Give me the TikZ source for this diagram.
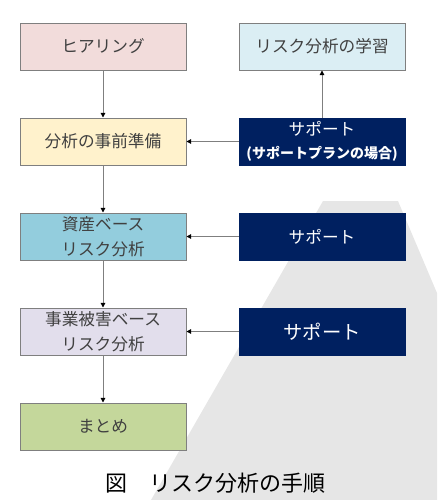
\documentclass[tikz,border=0pt]{standalone}
\usepackage{fontspec}
\setmainfont{Noto Sans CJK JP}
\usetikzlibrary{positioning,arrows.meta}
\definecolor{hearingfill}{HTML}{F2DCDB}
\definecolor{studyfill}{HTML}{DBEEF4}
\definecolor{prepfill}{HTML}{FFF2CC}
\definecolor{assetfill}{HTML}{93CDDD}
\definecolor{damagefill}{HTML}{E2DEEC}
\definecolor{summaryfill}{HTML}{C4D79B}
\definecolor{navy}{HTML}{002060}
\definecolor{boxline}{HTML}{7F7F7F}
\definecolor{textgray}{HTML}{404040}
\definecolor{backshade}{HTML}{E6E6E6}

\begin{document}
\begin{tikzpicture}[x=0.75pt,y=-0.75pt,
  node distance=35.25pt and 39pt,
  stepbox/.style={draw=boxline, line width=0.75pt, minimum width=124.5pt,
    minimum height=35.25pt, inner sep=1pt, align=center, text=textgray,
    font=\fontsize{12.5}{18.5}\selectfont},
  supportbox/.style={stepbox, draw=navy, fill=navy, text=white},
  flow/.style={draw=boxline, line width=0.75pt,
    -{Triangle[length=3.5pt,width=3.5pt,color=black]}}]
  \useasboundingbox (0,0) rectangle (437,500);
  % grey backdrop
  \fill[backshade] (323,201) -- (398,201) -- (437,293) -- (437,500) -- (151,500) -- cycle;

  % main steps
  \node[stepbox, fill=hearingfill] (hearing) at (103,46.5) {ヒアリング};
  \node[stepbox, fill=prepfill, below=of hearing] (prep) {分析の事前準備};
  \node[stepbox, fill=assetfill, below=of prep] (asset) {資産ベース\\リスク分析};
  \node[stepbox, fill=damagefill, below=of asset] (damage) {事業被害ベース\\リスク分析};
  \node[stepbox, fill=summaryfill, below=of damage] (summary) {まとめ};

  % support side
  \node[stepbox, fill=studyfill, right=of hearing] (study) {リスク分析の学習};
  \node[supportbox, right=of prep, font=\fontsize{12.5}{17}\selectfont] (support1)
    {サポート\\{\fontsize{10.5}{12}\selectfont\bfseries (サポートプランの場合)}};
  \node[supportbox, right=of asset] (support2) {サポート};
  \node[supportbox, right=of damage, font=\fontsize{14.5}{18}\selectfont] (support3) {サポート};

  \draw[flow] (hearing) -- (prep);
  \draw[flow] (prep) -- (asset);
  \draw[flow] (asset) -- (damage);
  \draw[flow] (damage) -- (summary);
  \draw[flow] (support1) -- (study);
  \draw[flow] (support1) -- (prep);
  \draw[flow] (support2) -- (asset);
  \draw[flow] (support3) -- (damage);

  \node[font=\fontsize{16.5}{20}\selectfont] (caption) at (215,483) {図　リスク分析の手順};
\end{tikzpicture}
\end{document}
